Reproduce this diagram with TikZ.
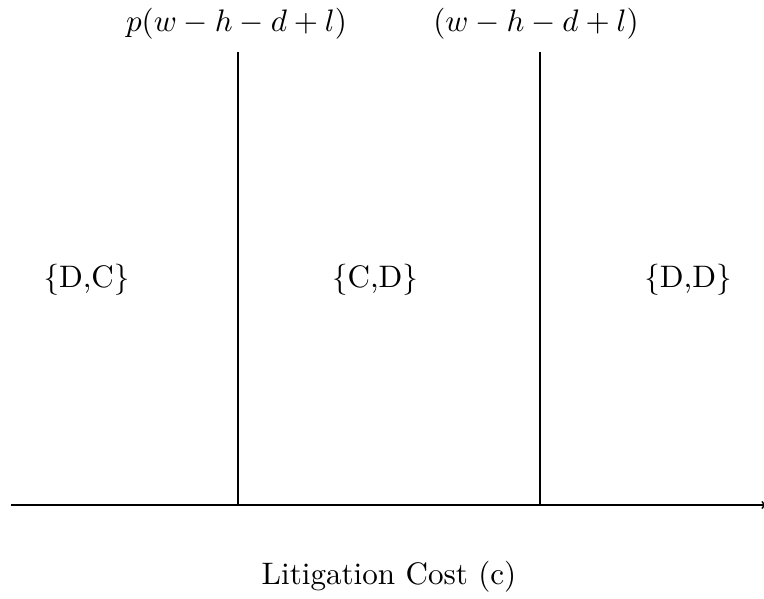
\documentclass[tikz,border=0pt]{standalone}
\begin{document}
\begin{tikzpicture}[x=1pt,y=-1pt,
  lbl/.style={scale=3.11,inner sep=0pt},
  ln/.style={line width=1.8pt}]
\useasboundingbox (0,0) rectangle (764,599);
% nodes
\node[lbl] (t1) at (236.5,24) {$p(w-h-d+l)$};
\node[lbl] (t2) at (536,24) {$(w-h-d+l)$};
\node[lbl] (r1) at (86.5,280) {\{D,C\}};
\node[lbl] (r2) at (375,280) {\{C,D\}};
\node[lbl] (r3) at (688,280) {\{D,D\}};
\node[lbl] (xl) at (389,577) {Litigation Cost (c)};
\coordinate (a0) at (11,505);
\coordinate (a1) at (766,505);
\coordinate (v1t) at (238,52);
\coordinate (v1b) at (238,505);
\coordinate (v2t) at (540,52);
\coordinate (v2b) at (540,505);
\draw[ln,->] (a0) -- (a1);
\draw[ln] (v1t) -- (v1b);
\draw[ln] (v2t) -- (v2b);
\end{tikzpicture}
\end{document}
